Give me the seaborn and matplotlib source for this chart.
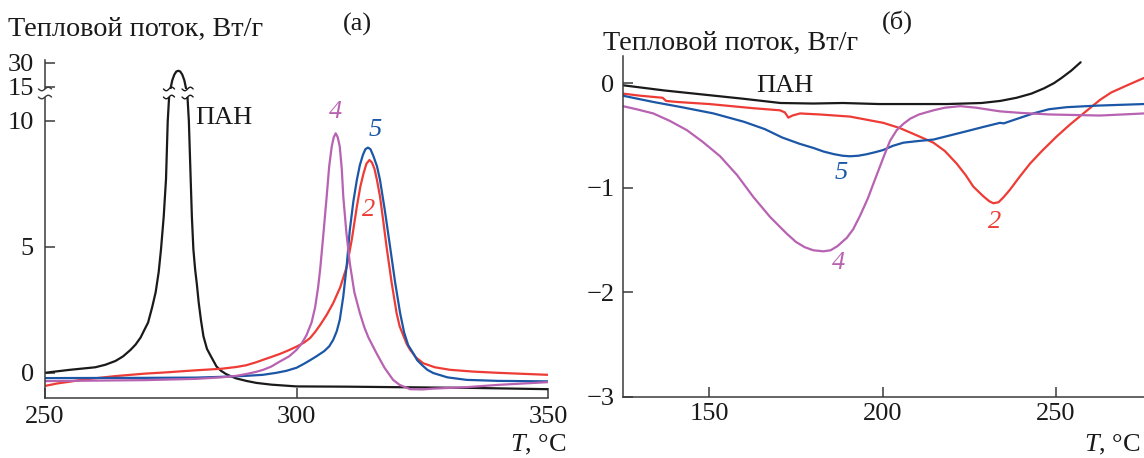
import numpy as np
import pandas as pd
import matplotlib
matplotlib.use("Agg")
import matplotlib.pyplot as plt
import matplotlib.transforms as mtransforms
from matplotlib.patches import Rectangle
import seaborn as sns

# ---------------- data: panel (a) ----------------
a_pan_T = [250, 252, 255, 258, 260, 262, 264, 265.5, 267, 268, 269, 270, 270.5, 271.3, 272, 272.6,
           273.06, 273.6, 274.06, 274.4, 274.7, 275.3, 275.7, 276.1, 276.5, 276.9, 277.3, 277.7,
           278.3, 278.6, 278.96, 279.2, 279.5, 279.85, 280.2, 280.55, 281, 281.5, 282.2, 283, 284.1,
           285, 286, 287, 288, 290, 292, 295, 300, 310, 320, 335, 350]
a_pan_Q = [0.0, 0.05, 0.12, 0.18, 0.22, 0.32, 0.47, 0.65, 0.91, 1.12, 1.4, 1.8, 2.0, 2.6, 3.2, 4.0,
           4.9, 6.2, 7.7, 10.0, 11.5, 19.0, 22.5, 24.5, 25.0, 24.5, 22.5, 19.0,
           11.5, 10.0, 7.7, 6.2, 4.9, 4.1, 3.5, 2.8, 2.1, 1.45, 0.95, 0.65, 0.25,
           0.08, -0.05, -0.14, -0.22, -0.32, -0.4, -0.47, -0.54, -0.55, -0.57, -0.6, -0.65]

a_4_T = [250, 270, 280, 285, 288, 290, 292, 293.4, 295, 296.7, 298.5, 300, 301, 302, 303, 303.7,
         304.3, 304.7, 305.3, 306.0, 306.5, 307.0, 307.4, 307.8, 308.2, 308.6, 309.0, 309.3, 309.9,
         310.6, 311.5, 312.6, 313.5, 314.3, 315.9, 317.5, 319.2, 320.5, 322.6, 325, 327, 333.8, 340, 350]
a_4_Q = [-0.33, -0.29, -0.24, -0.18, -0.12, -0.05, 0.04, 0.12, 0.25, 0.45, 0.65, 0.91, 1.15, 1.5, 2.0,
         2.6, 3.4, 4.1, 5.4, 7.0, 8.2, 8.98, 9.35, 9.51, 9.35, 8.98, 8.1, 7.0, 5.6,
         4.35, 3.2, 2.37, 1.8, 1.4, 0.78, 0.2, -0.28, -0.48, -0.65, -0.66, -0.63, -0.57, -0.48, -0.37]

a_5_T = [250, 270, 280, 285, 290, 293.3, 296, 298, 300, 301.5, 302.7, 304, 305.5, 306.5, 307.3, 308,
         308.6, 309.3, 310, 310.6, 311.3, 312.0, 312.6, 313.2, 313.7, 314.2, 314.7, 315.3, 316.0,
         316.6, 317.6, 318.6, 319.6, 320.6, 321.4, 322.2, 323.2, 324, 325, 326, 327.2, 330, 333.8,
         340, 350]
a_5_Q = [-0.21, -0.2, -0.19, -0.16, -0.12, -0.08, 0.0, 0.08, 0.2, 0.36, 0.5, 0.66, 0.86, 1.05, 1.31,
         1.65, 2.1, 3.03, 4.3, 5.67, 6.8, 7.66, 8.25, 8.65, 8.88, 8.94, 8.88, 8.6, 8.2,
         7.66, 6.4, 5.01, 3.6, 2.37, 1.6, 1.1, 0.78, 0.5, 0.3, 0.12, -0.01, -0.18, -0.28,
         -0.32, -0.34]

a_2_T = [250, 252.5, 255, 257.5, 260.3, 264, 267, 270, 273.5, 280, 285, 288, 290, 292, 293.4, 295,
         296.7, 298.5, 300, 301.5, 302.7, 303.7, 304.7, 306, 307.3, 308.7, 310.0, 311, 312.0, 312.7,
         313.3, 313.9, 314.5, 315.0, 315.5, 316.0, 316.6, 317.2, 317.9, 318.9, 319.9, 320.5, 321.2,
         321.9, 322.6, 323.8, 325.2, 327.5, 330.5, 335, 340, 350]
a_2_Q = [-0.52, -0.42, -0.35, -0.27, -0.21, -0.13, -0.08, -0.03, 0.01, 0.1, 0.16, 0.23, 0.3, 0.42, 0.52,
         0.63, 0.75, 0.9, 1.04, 1.2, 1.38, 1.62, 1.9, 2.3, 2.77, 3.4, 4.22, 5.3, 6.6, 7.4,
         7.9, 8.3, 8.45, 8.35, 8.1, 7.65, 7.0, 6.1, 5.01, 3.6, 2.37, 1.85, 1.5,
         1.15, 0.91, 0.6, 0.38, 0.22, 0.12, 0.05, 0.0, -0.08]

a_xticks = [250, 300, 350]
a_yticks = [0, 5, 10, 15, 30]

# ---------------- data: panel (b) ----------------
b_pan_T = [125, 137, 148.5, 160, 170.5, 180, 188.6, 199, 208.6, 218.6, 228.6, 234, 238.7, 243, 246.6,
           249.5, 251.7, 254.5, 257.2]
b_pan_Q = [-0.02, -0.07, -0.11, -0.15, -0.19, -0.195, -0.19, -0.2, -0.2, -0.2, -0.19, -0.17, -0.14, -0.1,
           -0.05, 0.0, 0.05, 0.12, 0.2]

b_2_T = [125, 130, 136.5, 137.5, 140.6, 150, 162.7, 170.4, 171.8, 172.8, 174, 176.2, 182, 190.6, 200.2,
         205, 209.9, 214.7, 218, 221.4, 224, 226.2, 229, 230.8, 232.0, 233.5, 235, 236.8, 239.5, 242.6,
         246, 250.3, 254, 258.0, 262.8, 266, 270, 275.5]
b_2_Q = [-0.1, -0.12, -0.14, -0.17, -0.18, -0.2, -0.24, -0.26, -0.28, -0.33, -0.31, -0.29, -0.30, -0.32,
         -0.38, -0.43, -0.5, -0.57, -0.65, -0.77, -0.88, -0.99, -1.08, -1.13, -1.15, -1.14, -1.09, -1.02,
         -0.9, -0.77, -0.65, -0.51, -0.4, -0.29, -0.16, -0.09, -0.03, 0.05]

b_5_T = [125, 133.8, 142, 151.2, 160, 166, 171, 176, 180, 183, 186, 188.5, 190.6, 193, 195.5, 198,
         200.2, 203, 206, 210, 214.7, 219.5, 224.3, 229, 233.9, 235, 239, 243.5, 248, 253.2, 262, 275.5]
b_5_Q = [-0.12, -0.18, -0.23, -0.29, -0.37, -0.44, -0.52, -0.58, -0.62, -0.655, -0.68, -0.695, -0.70,
         -0.695, -0.68, -0.66, -0.64, -0.6, -0.57, -0.555, -0.54, -0.5, -0.46, -0.42, -0.38, -0.385,
         -0.34, -0.29, -0.25, -0.23, -0.215, -0.2]

b_4_T = [125, 129, 133.8, 138.5, 143.5, 148, 153.1, 158, 162.7, 167.5, 172.3, 175, 177.5, 180, 182.9,
         185, 187, 189.7, 191.5, 193.5, 195.8, 197.5, 199, 200.5, 202.2, 204.1, 206, 208, 210.5,
         214.7, 218, 222.4, 227, 233.9, 240, 248.4, 262.8, 275.5]
b_4_Q = [-0.22, -0.25, -0.29, -0.36, -0.45, -0.56, -0.70, -0.88, -1.09, -1.28, -1.44, -1.52, -1.57,
         -1.60, -1.61, -1.60, -1.56, -1.48, -1.4, -1.27, -1.1, -0.95, -0.82, -0.69, -0.55, -0.45,
         -0.39, -0.34, -0.3, -0.26, -0.235, -0.22, -0.235, -0.27, -0.285, -0.30, -0.31, -0.29]

b_xticks = [150, 200, 250]
b_yticks = [0, -1, -2, -3]

# ---------------- style ----------------
sns.set_theme(style="ticks")
plt.rcParams["font.family"] = ["Liberation Serif", "DejaVu Serif"]
plt.rcParams["mathtext.fontset"] = "custom"
plt.rcParams["mathtext.rm"] = "Liberation Serif"
plt.rcParams["mathtext.it"] = "Liberation Serif:italic"
FS = 19
FS_LAB = 20.3
AXC = "#3a3a3a"
C_PAN = "#1a1a1a"
C_2 = "#ee3b35"
C_4 = "#b862b2"
C_5 = "#1b57a6"
LW = 1.6

fig = plt.figure(figsize=(11.44, 4.58), dpi=100)
W, H = 1144, 458

def px_axes(x0, x1, y_top, y_bot):
    return fig.add_axes([x0 / W, (H - y_bot) / H, (x1 - x0) / W, (y_bot - y_top) / H])

ax_a = px_axes(45, 548, 60, 398)
ax_b = px_axes(622.8, 1144, 56, 396.5)

# broken-axis mapping for panel (a)
def fwd(y):
    y = np.asarray(y, dtype=float)
    return np.where(y <= 11, y,
                    np.where(y <= 15, 11 + (y - 11) * 0.09, 11.36 + (y - 15) * 0.0633))

def inv(d):
    d = np.asarray(d, dtype=float)
    return np.where(d <= 11, d,
                    np.where(d <= 11.36, 11 + (d - 11) / 0.09, 15 + (d - 11.36) / 0.0633))

series_a = [(a_pan_T, a_pan_Q, C_PAN), (a_2_T, a_2_Q, C_2), (a_5_T, a_5_Q, C_5), (a_4_T, a_4_Q, C_4)]
for T, Q, c in series_a:
    sns.lineplot(x=T, y=Q, ax=ax_a, color=c, linewidth=LW, estimator=None, sort=False)

series_b = [(b_pan_T, b_pan_Q, C_PAN), (b_2_T, b_2_Q, C_2), (b_5_T, b_5_Q, C_5), (b_4_T, b_4_Q, C_4)]
for T, Q, c in series_b:
    sns.lineplot(x=T, y=Q, ax=ax_b, color=c, linewidth=LW, estimator=None, sort=False)

for ax in (ax_a, ax_b):
    for ln in ax.get_lines():
        ln.set_solid_joinstyle("round")
        ln.set_solid_capstyle("round")

ax_a.set_yscale("function", functions=(fwd, inv))
ax_a.set_xlim(250, 350)
ax_a.set_ylim(-1.0, float(inv(12.42)))
ax_a.set_xticks(a_xticks)
ax_a.set_yticks(a_yticks)

ax_b.set_xlim(125, 275.5)
ax_b.set_ylim(-3, 0.26)
ax_b.set_xticks(b_xticks)
ax_b.set_yticks(b_yticks)
ax_b.set_yticklabels(["0", "\u22121", "\u22122", "\u22123"])

for ax in (ax_a, ax_b):
    ax.set_facecolor("white")
    for s in ("top", "right"):
        ax.spines[s].set_visible(False)
    for s in ("left", "bottom"):
        ax.spines[s].set_color(AXC)
        ax.spines[s].set_linewidth(1.1)
    ax.tick_params(direction="in", length=7, width=1.1, color=AXC, labelsize=FS,
                   labelcolor="#1a1a1a")
    ax.set_xlabel("")
    ax.set_ylabel("")
ax_a.tick_params(axis="x", pad=6)
ax_a.tick_params(axis="y", pad=8)
ax_b.tick_params(axis="x", pad=5)
ax_b.tick_params(axis="y", pad=6)

# ---- break marks for panel (a) ----
d_lo, d_hi = 10.97, 11.25
blend = mtransforms.blended_transform_factory(ax_a.transAxes, ax_a.transData)
ax_a.add_patch(Rectangle((-0.02, float(inv(d_lo))), 0.04, float(inv(d_hi)) - float(inv(d_lo)),
                         transform=blend, facecolor="white", edgecolor="none", zorder=6, clip_on=False))
t = np.linspace(-1, 1, 30)
for d0 in (10.95, 11.27):
    ax_a.plot(0.013 * t, inv(d0 + 0.07 * np.sin(np.pi * t)), transform=blend, color=AXC,
              lw=1.0, zorder=7, clip_on=False)
# gap on the PAN peak
ax_a.fill_between([273.6, 279.4], float(inv(d_lo)), float(inv(d_hi)), color="white", zorder=6, lw=0)
for xc in (274.65, 278.35):
    for d0 in (10.95, 11.27):
        ax_a.plot(xc + 1.1 * t, inv(d0 + 0.07 * np.sin(np.pi * t)), color=C_PAN, lw=1.0, zorder=7)

# ---- curve labels ----
ax_a.text(285.6, 10.1, "ПАН", fontsize=FS, ha="center", va="center", color="#1a1a1a")
ax_a.text(307.7, 10.37, "4", fontsize=FS, ha="center", va="center", color=C_4, style="italic")
ax_a.text(315.6, 9.64, "5", fontsize=FS, ha="center", va="center", color=C_5, style="italic")
ax_a.text(314.3, 6.47, "2", fontsize=FS, ha="center", va="center", color=C_2, style="italic")

ax_b.text(171.7, -0.03, "ПАН", fontsize=FS, ha="center", va="center", color="#1a1a1a")
ax_b.text(188.2, -0.86, "5", fontsize=FS, ha="center", va="center", color=C_5, style="italic")
ax_b.text(187.2, -1.72, "4", fontsize=FS, ha="center", va="center", color=C_4, style="italic")
ax_b.text(232.5, -1.33, "2", fontsize=FS, ha="center", va="center", color=C_2, style="italic")

# ---- titles / axis labels ----
def ftext(x, y, s, size=FS, **kw):
    fig.text(x / W, (H - y) / H, s, fontsize=size, color="#1a1a1a", **kw)

ftext(8, 36, "Тепловой поток, Вт/г", size=FS_LAB, ha="left", va="baseline")
ftext(603, 50, "Тепловой поток, Вт/г", size=FS_LAB, ha="left", va="baseline")
ftext(357, 24, "(а)", ha="center", va="center")
ftext(897, 22, "(б)", ha="center", va="center")
ftext(567, 451, "$T$, °C", ha="right", va="baseline")
ftext(1141, 451, "$T$, °C", ha="right", va="baseline")

fig.savefig("out.png", dpi=100, facecolor="white")
